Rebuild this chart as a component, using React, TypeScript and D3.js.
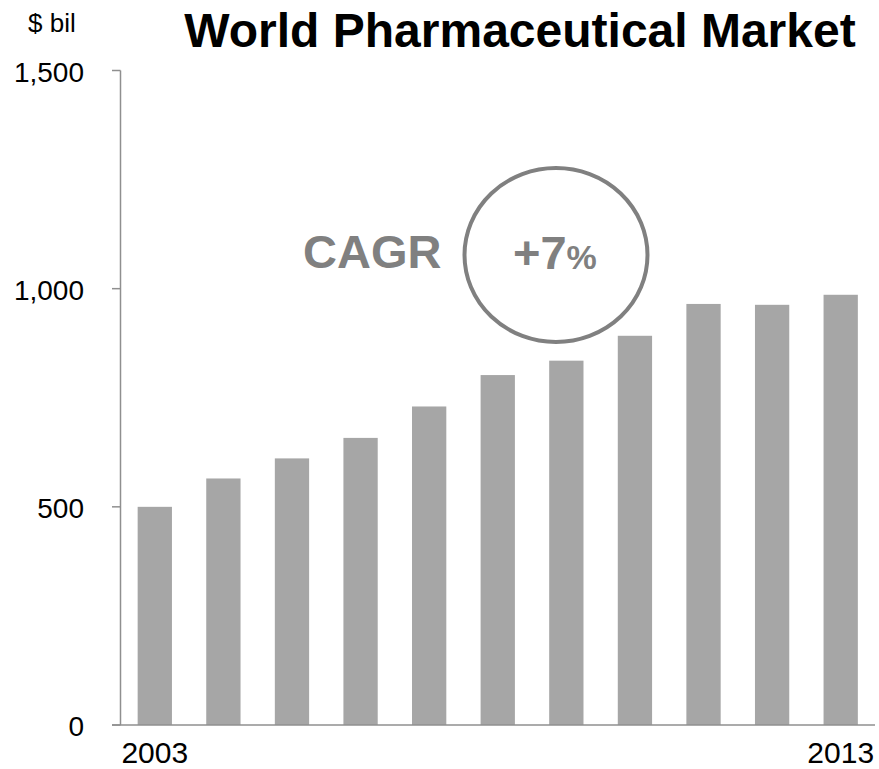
import React from "react";
import * as d3 from "d3";

const years = ["2003", "2004", "2005", "2006", "2007", "2008", "2009", "2010", "2011", "2012", "2013"];
const values = [500, 565, 611, 658, 730, 802, 835, 892, 965, 963, 986];
const yTicks = [0, 500, 1000, 1500];
const xLabels = ["2003", "2013"];

const W = 879;
const H = 769;
const FONT = "'Liberation Sans', Arial, Helvetica, sans-serif";

export default function App() {
  const x = d3
    .scaleBand<string>()
    .domain(years)
    .range([120.5, 875])
    .paddingInner(0.5)
    .paddingOuter(0.25);
  const y = d3.scaleLinear().domain([0, 1500]).range([725, 70.5]);
  const fmt = d3.format(",");
  const axisColor = "#8f8f8f";

  return (
    <svg
      width={W}
      height={H}
      style={{ position: "absolute", left: 0, top: 0, background: "#fff" }}
      fontFamily={FONT}
    >
      <text x={28} y={32} fontSize={26} fill="#000">$ bil</text>
      <text x={520} y={47} fontSize={48} fontWeight="bold" fill="#000" textAnchor="middle">
        World Pharmaceutical Market
      </text>

      {values.map((v, i) => (
        <rect
          key={years[i]}
          x={x(years[i])}
          y={y(v)}
          width={x.bandwidth()}
          height={y(0) - y(v)}
          fill="#a6a6a6"
        />
      ))}

      <line x1={120.5} x2={120.5} y1={y(1500)} y2={y(0)} stroke={axisColor} strokeWidth={1.5} />
      <line x1={112} x2={875} y1={y(0)} y2={y(0)} stroke={axisColor} strokeWidth={1.5} />
      {yTicks.map((t) => (
        <g key={t}>
          <line x1={112} x2={120.5} y1={y(t)} y2={y(t)} stroke={axisColor} strokeWidth={1.5} />
          <text x={84} y={y(t) + 11} fontSize={28} textAnchor="end" fill="#000">
            {fmt(t)}
          </text>
        </g>
      ))}
      {xLabels.map((l) => (
        <text
          key={l}
          x={(x(l) as number) + x.bandwidth() / 2}
          y={763}
          fontSize={30}
          textAnchor="middle"
          fill="#000"
        >
          {l}
        </text>
      ))}

      <text x={303} y={268} fontSize={47} fontWeight="bold" fill="#808080">CAGR</text>
      <ellipse cx={556} cy={255} rx={91.5} ry={87} fill="none" stroke="#808080" strokeWidth={4} />
      <text x={513} y={269} fontWeight="bold" fill="#808080">
        <tspan fontSize={47}>+7</tspan>
        <tspan fontSize={34}>%</tspan>
      </text>
    </svg>
  );
}
